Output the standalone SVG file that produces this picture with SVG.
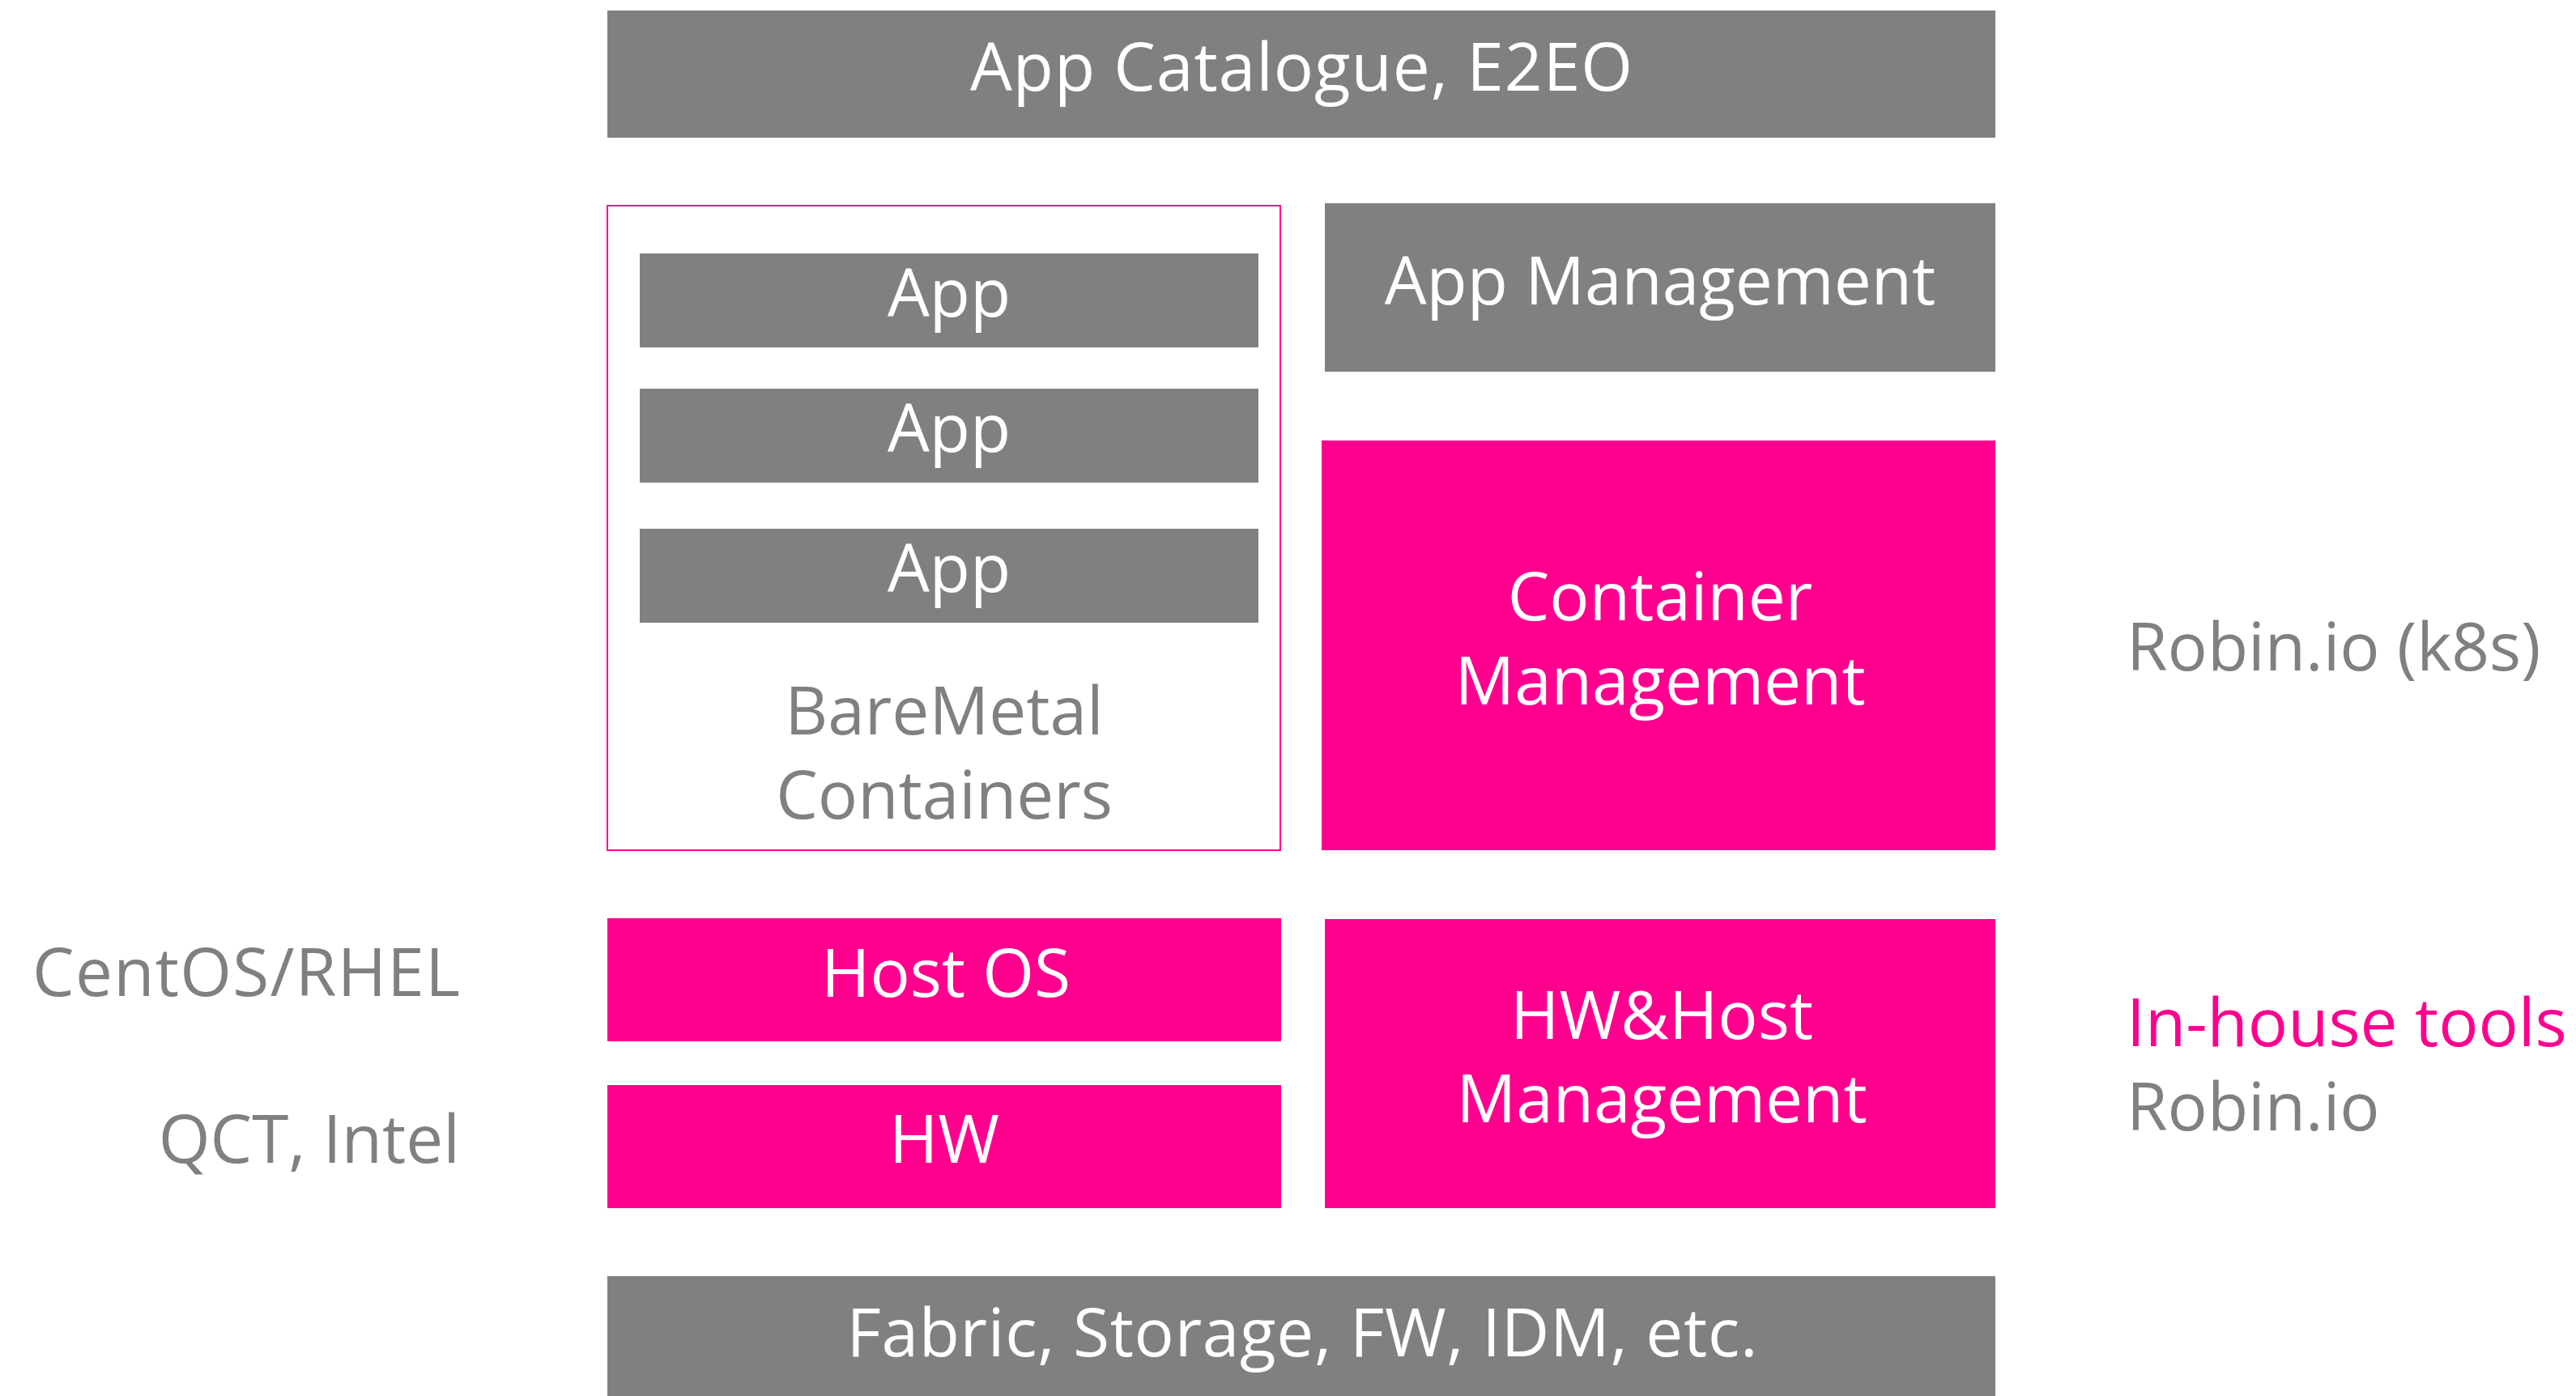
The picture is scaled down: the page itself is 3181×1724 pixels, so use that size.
<svg xmlns="http://www.w3.org/2000/svg" width="3181" height="1724" viewBox="0 0 3181 1724">
<style>
.g{fill:#808080}
.m{fill:#FF008E}
text{font-family:"Open Sans","Liberation Sans",sans-serif;font-size:82px}
.w{fill:#ffffff;text-anchor:middle}
.t{fill:#808080}
.mt{fill:#FF008E}
</style>
<rect width="3181" height="1724" fill="#ffffff"/>
<g id="app-catalogue">
<rect class="g" x="750" y="13" width="1714" height="157"/>
<text class="w" x="1607" y="112" textLength="818" lengthAdjust="spacing">App Catalogue, E2EO</text>
</g>
<g id="baremetal-containers">
<rect x="750" y="254" width="831" height="796" fill="none" stroke="#FF008E" stroke-width="2"/>
<text class="t" x="1166" y="907" text-anchor="middle">BareMetal</text>
<text class="t" x="1166" y="1011" text-anchor="middle">Containers</text>
</g>
<g id="app1">
<rect class="g" x="790" y="313" width="764" height="116"/>
<text class="w" x="1172" y="391">App</text>
</g>
<g id="app2">
<rect class="g" x="790" y="480" width="764" height="116"/>
<text class="w" x="1172" y="558">App</text>
</g>
<g id="app3">
<rect class="g" x="790" y="653" width="764" height="116"/>
<text class="w" x="1172" y="731">App</text>
</g>
<g id="app-management">
<rect class="g" x="1636" y="251" width="828" height="208"/>
<text class="w" x="2050" y="376">App Management</text>
</g>
<g id="container-management">
<rect class="m" x="1632" y="544" width="832" height="506"/>
<text class="w" x="2050" y="766">Container</text>
<text class="w" x="2050" y="870">Management</text>
</g>
<g id="host-os">
<rect class="m" x="750" y="1134" width="832" height="152"/>
<text class="w" x="1168" y="1231">Host OS</text>
</g>
<g id="hw">
<rect class="m" x="750" y="1340" width="832" height="152"/>
<text class="w" x="1166" y="1436">HW</text>
</g>
<g id="hw-host-management">
<rect class="m" x="1636" y="1135" width="828" height="357"/>
<text class="w" x="2052" y="1283">HW&amp;Host</text>
<text class="w" x="2052" y="1386">Management</text>
</g>
<g id="fabric">
<rect class="g" x="750" y="1576" width="1714" height="148"/>
<text class="w" x="1608" y="1675" textLength="1125" lengthAdjust="spacing">Fabric, Storage, FW, IDM, etc.</text>
</g>
<g id="labels">
<text class="t" x="568" y="1230" text-anchor="end" textLength="528" lengthAdjust="spacing">CentOS/RHEL</text>
<text class="t" x="568" y="1436" text-anchor="end">QCT, Intel</text>
<text class="t" x="2626" y="828">Robin.io (k8s)</text>
<text class="mt" x="2626" y="1292">In-house tools</text>
<text class="t" x="2626" y="1396">Robin.io</text>
</g>
<g id="connectors"></g>
</svg>
